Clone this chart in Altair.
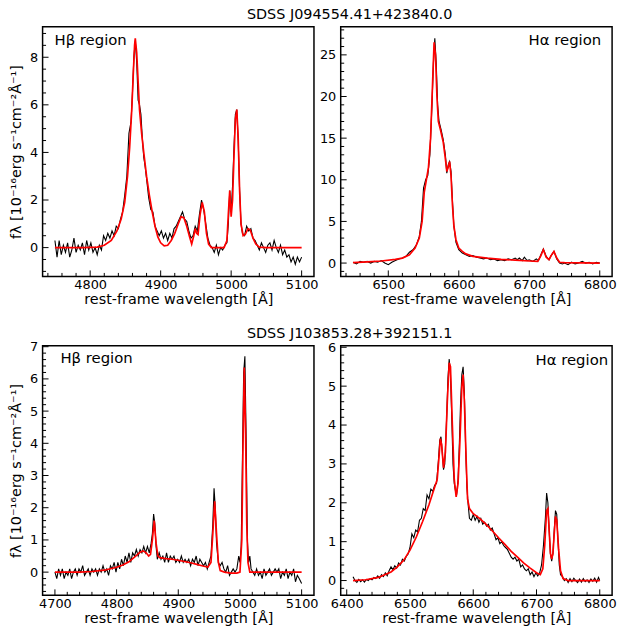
import altair as alt
import pandas as pd

FONT = "DejaVu Sans"

tl_obs_wl = [4750, 4753, 4756, 4759, 4762, 4765, 4768, 4771, 4774, 4777, 4780, 4783, 4786, 4789, 4792, 4795,
             4798, 4801, 4804, 4807, 4810, 4813, 4816, 4819, 4822, 4825, 4828, 4831, 4834, 4837, 4840, 4843,
             4846, 4849, 4852, 4855, 4858, 4860, 4862, 4864, 4866, 4868, 4870, 4872, 4874, 4876, 4878, 4880,
             4883, 4886, 4889, 4892, 4895, 4898, 4901, 4904, 4907, 4910, 4913, 4916, 4919, 4922, 4925, 4928,
             4931, 4934, 4937, 4940, 4943, 4946, 4949, 4952, 4955, 4958, 4961, 4964, 4967, 4970, 4973, 4976,
             4979, 4982, 4985, 4988, 4991, 4994, 4996, 4998, 5000, 5002, 5004, 5006, 5008, 5010, 5012, 5014,
             5016, 5019, 5022, 5025, 5028, 5031, 5034, 5037, 5040, 5043, 5046, 5049, 5052, 5055, 5058, 5061,
             5064, 5067, 5070, 5073, 5076, 5079, 5082, 5085, 5088, 5091, 5094, 5097, 5100]
tl_obs_f = [0.3, -0.4, 0.3, -0.3, 0.1, -0.2, 0.2, -0.4, -0.1, 0.4, -0.2, 0.1, -0.1, 0.2, -0.3, 0.3,
            -0.1, 0.2, -0.2, 0.0, -0.3, 0.1, -0.1, 0.5, 0.3, 0.6, 0.4, 0.7, 0.5, 0.9, 0.8, 1.2,
            1.5, 2.2, 3.0, 4.8, 5.3, 6.5, 8.0, 8.7, 7.8, 6.2, 6.0, 5.6, 4.6, 3.8, 3.4, 2.9,
            2.1, 1.6, 1.5, 0.9, 0.7, 0.5, 0.7, 0.4, 0.6, 0.3, 0.6, 0.4, 0.8, 0.9, 1.1, 1.3,
            1.5, 1.2, 1.1, 0.7, 0.4, 0.5, 0.9, 0.7, 1.4, 2.0, 1.6, 1.0, 0.4, 0.1, 0.0, -0.2,
            0.1, -0.3, 0.0, -0.1, 0.1, 0.2, 1.0, 2.4, 1.5, 2.6, 4.2, 5.6, 5.8, 4.5, 2.4, 1.0,
            0.6, 0.5, 0.9, 0.7, 0.8, 0.4, 0.3, 0.1, -0.1, 0.2, 0.0, -0.2, 0.1, 0.2, -0.1, 0.3,
            0.0, -0.2, 0.1, -0.3, -0.1, -0.4, -0.3, -0.6, -0.4, -0.7, -0.4, -0.6, -0.4]
tl_mod_wl = [4750, 4790, 4810, 4820, 4830, 4838, 4844, 4849, 4853, 4856, 4859, 4861, 4863, 4864, 4866, 4868,
             4870, 4873, 4876, 4880, 4884, 4888, 4892, 4896, 4900, 4905, 4910, 4915, 4920, 4925, 4929, 4933,
             4937, 4941, 4944, 4947, 4949, 4951, 4953, 4956, 4959, 4962, 4965, 4968, 4972, 4990, 4994, 4996,
             4998, 5000, 5002, 5004, 5006, 5008, 5010, 5012, 5014, 5017, 5020, 5024, 5027, 5031, 5035, 5040,
             5050, 5100]
tl_mod_f = [0.0, 0.0, 0.02, 0.1, 0.3, 0.7, 1.2, 1.9, 3.0, 4.2, 5.8, 7.2, 8.5, 8.8, 8.2, 7.0,
            5.8, 4.8, 4.0, 3.0, 2.2, 1.5, 0.9, 0.45, 0.2, 0.07, 0.1, 0.3, 0.6, 1.0, 1.3, 1.25,
            0.9, 0.45, 0.15, 0.5, 0.8, 0.6, 0.55, 1.4, 1.9, 1.5, 0.6, 0.15, 0.0, 0.0, 0.3, 1.4,
            2.4, 1.3, 2.0, 3.8, 5.4, 5.8, 4.6, 2.4, 1.0, 0.5, 0.55, 0.8, 0.75, 0.4, 0.15, 0.02,
            0.0, 0.0]

tr_obs_wl = [6450, 6455, 6460, 6465, 6470, 6475, 6480, 6485, 6490, 6495, 6500, 6505, 6510, 6515, 6520, 6525,
             6530, 6535, 6540, 6544, 6547, 6550, 6553, 6556, 6559, 6562, 6564, 6566, 6568, 6570, 6572, 6575,
             6578, 6581, 6583, 6585, 6587, 6589, 6591, 6593, 6596, 6600, 6605, 6610, 6615, 6620, 6625, 6630,
             6635, 6640, 6645, 6650, 6655, 6660, 6665, 6670, 6675, 6680, 6683, 6686, 6690, 6693, 6697, 6700,
             6705, 6710, 6713, 6716, 6720, 6724, 6728, 6731, 6735, 6739, 6743, 6747, 6750, 6755, 6760, 6765,
             6770, 6775, 6780, 6785, 6790, 6795, 6800]
tr_obs_f = [0.1, -0.1, 0.2, 0.1, 0.2, 0.0, 0.2, 0.1, 0.3, 0.0, -0.2, 0.1, 0.3, 0.5, 0.6, 0.8,
            1.3, 1.6, 2.2, 3.2, 5.0, 9.0, 10.0, 10.5, 13.0, 19.0, 24.0, 27.0, 24.0, 19.0, 17.0, 16.0,
            14.8, 13.0, 10.8, 11.8, 12.2, 11.0, 7.5, 4.5, 2.5, 1.6, 1.2, 1.0, 0.8, 0.9, 0.7, 0.6,
            0.5, 0.6, 0.4, 0.5, 0.3, 0.4, 0.3, 0.5, 0.4, 0.6, 0.4, 0.6, 0.3, 0.7, 0.3, 0.4,
            0.2, 0.5, 0.3, 0.9, 1.7, 0.8, 0.4, 0.9, 1.4, 0.5, 0.0, -0.1, 0.0, -0.2, 0.1, -0.1,
            0.0, 0.2, 0.0, 0.1, -0.1, 0.1, 0.0]
tr_mod_wl = [6450, 6470, 6490, 6510, 6520, 6530, 6538, 6544, 6548, 6551, 6554, 6557, 6560, 6563, 6565, 6567,
             6569, 6571, 6574, 6578, 6581, 6583, 6585, 6587, 6589, 6591, 6593, 6596, 6600, 6605, 6610, 6620,
             6640, 6660, 6680, 6700, 6712, 6716, 6720, 6724, 6728, 6731, 6735, 6739, 6743, 6750, 6800]
tr_mod_f = [0.05, 0.15, 0.25, 0.45, 0.6, 1.0, 1.8, 3.0, 5.0, 8.5, 10.0, 11.5, 15.0, 22.0, 26.5, 25.0,
            20.0, 17.0, 16.0, 14.5, 12.5, 11.0, 11.5, 12.2, 10.5, 7.0, 4.5, 2.8, 1.8, 1.4, 1.1, 0.8,
            0.6, 0.45, 0.35, 0.25, 0.2, 0.8, 1.6, 0.7, 0.4, 0.9, 1.4, 0.6, 0.1, 0.05, 0.0]

bl_obs_wl = [4700, 4703, 4706, 4709, 4712, 4715, 4718, 4721, 4724, 4727, 4730, 4733, 4736, 4739, 4742, 4745,
             4748, 4751, 4754, 4757, 4760, 4763, 4766, 4769, 4772, 4775, 4778, 4781, 4784, 4787, 4790, 4793,
             4796, 4799, 4802, 4805, 4808, 4811, 4814, 4817, 4820, 4823, 4826, 4829, 4832, 4835, 4838, 4841,
             4844, 4847, 4850, 4853, 4856, 4858, 4860, 4862, 4864, 4866, 4869, 4872, 4875, 4878, 4881, 4884,
             4887, 4890, 4893, 4896, 4899, 4902, 4905, 4908, 4911, 4914, 4917, 4920, 4923, 4926, 4929, 4932,
             4935, 4938, 4941, 4944, 4947, 4950, 4953, 4956, 4958, 4960, 4962, 4965, 4968, 4971, 4974, 4977,
             4980, 4983, 4986, 4989, 4992, 4995, 4998, 5000, 5002, 5004, 5006, 5008, 5010, 5012, 5014, 5016,
             5018, 5021, 5024, 5027, 5030, 5033, 5036, 5039, 5042, 5045, 5048, 5051, 5054, 5057, 5060, 5063,
             5066, 5069, 5072, 5075, 5078, 5081, 5084, 5087, 5090, 5093, 5096, 5100]
bl_obs_f = [0.0, -0.2, 0.1, -0.1, 0.1, -0.2, 0.0, -0.1, 0.1, -0.2, 0.0, 0.1, -0.1, 0.1, 0.0, 0.2,
            -0.1, 0.0, 0.1, -0.1, 0.1, 0.0, 0.1, -0.1, 0.1, 0.0, 0.2, 0.0, 0.1, -0.1, 0.2, 0.1,
            0.3, 0.0, 0.3, 0.1, 0.4, 0.2, 0.5, 0.3, 0.6, 0.3, 0.6, 0.5, 0.7, 0.5, 0.7, 0.6,
            0.8, 0.6, 0.8, 0.6, 0.9, 1.2, 1.8, 1.5, 0.8, 0.4, 0.6, 0.4, 0.5, 0.3, 0.6, 0.3,
            0.5, 0.4, 0.5, 0.3, 0.4, 0.3, 0.5, 0.3, 0.4, 0.3, 0.4, 0.2, 0.4, 0.3, 0.5, 0.2,
            0.4, 0.3, 0.2, 0.3, 0.1, 0.3, 0.5, 1.5, 2.6, 2.0, 0.9, 0.3, 0.2, 0.3, 0.1, 0.0,
            0.2, -0.1, 0.0, 0.1, 0.0, 0.1, 0.5, 0.3, 0.8, 3.5, 6.2, 6.7, 4.2, 1.0, 0.3, 0.5,
            0.1, 0.0, -0.1, 0.1, -0.1, 0.0, -0.2, 0.1, -0.1, 0.0, 0.1, -0.1, 0.0, 0.1, 0.0, 0.1,
            -0.2, 0.0, -0.1, 0.1, -0.2, 0.0, -0.1, 0.1, -0.3, -0.1, -0.2, -0.35]
bl_mod_wl = [4700, 4720, 4740, 4760, 4780, 4800, 4810, 4820, 4830, 4838, 4843, 4848, 4852, 4855, 4858, 4861,
             4864, 4867, 4870, 4880, 4890, 4900, 4910, 4920, 4930, 4940, 4948, 4953, 4956, 4959, 4962, 4965,
             4968, 4975, 4985, 4995, 5000, 5003, 5005, 5007, 5009, 5011, 5013, 5016, 5030, 5100]
bl_mod_f = [0.0, 0.0, 0.0, 0.02, 0.06, 0.15, 0.22, 0.32, 0.48, 0.62, 0.66, 0.6, 0.5, 0.55, 1.0, 1.6,
            0.9, 0.5, 0.45, 0.42, 0.4, 0.37, 0.33, 0.29, 0.24, 0.19, 0.16, 0.3, 1.2, 2.2, 1.2, 0.3,
            0.05, 0.0, -0.03, -0.03, 0.0, 1.0, 4.0, 6.35, 4.5, 1.5, 0.3, 0.0, 0.0, 0.0]

br_obs_wl = [6410, 6413, 6416, 6419, 6422, 6425, 6428, 6431, 6434, 6437, 6440, 6443, 6446, 6449, 6452, 6455,
             6458, 6461, 6464, 6467, 6470, 6473, 6476, 6479, 6482, 6485, 6488, 6491, 6494, 6497, 6500, 6503,
             6506, 6509, 6512, 6515, 6518, 6521, 6524, 6527, 6530, 6533, 6536, 6539, 6542, 6545, 6547, 6549,
             6551, 6553, 6555, 6558, 6560, 6562, 6564, 6566, 6568, 6570, 6572, 6574, 6576, 6578, 6580, 6582,
             6584, 6586, 6588, 6590, 6592, 6594, 6597, 6600, 6603, 6606, 6609, 6612, 6615, 6618, 6621, 6624,
             6627, 6630, 6633, 6636, 6639, 6642, 6645, 6648, 6651, 6654, 6657, 6660, 6663, 6666, 6669, 6672,
             6675, 6678, 6681, 6684, 6687, 6690, 6693, 6696, 6699, 6702, 6705, 6708, 6711, 6714, 6716, 6718,
             6720, 6722, 6724, 6726, 6728, 6730, 6732, 6734, 6736, 6738, 6741, 6744, 6747, 6750, 6753, 6756,
             6759, 6762, 6765, 6768, 6771, 6774, 6777, 6780, 6783, 6786, 6789, 6792, 6795, 6798, 6800]
br_obs_f = [0.1, 0.0, -0.05, 0.03, -0.03, 0.02, -0.04, 0.03, 0.0, 0.05, 0.02, 0.08, 0.05, 0.12, 0.06, 0.15,
            0.1, 0.2, 0.12, 0.25, 0.35, 0.28, 0.38, 0.32, 0.45, 0.4, 0.55, 0.5, 0.62, 0.68, 0.85, 1.2,
            1.1, 1.3, 1.25, 1.55, 1.6, 1.85, 1.8, 2.2, 2.1, 2.35, 2.3, 2.45, 2.5, 3.1, 3.6, 3.7,
            3.3, 2.85, 3.0, 4.2, 5.2, 5.7, 5.3, 4.2, 3.0, 2.5, 2.3, 2.25, 2.6, 3.5, 4.6, 5.3,
            5.5, 4.8, 3.4, 2.4, 1.95, 1.6, 1.55, 1.7, 1.55, 1.65, 1.5, 1.6, 1.45, 1.5, 1.4, 1.45,
            1.3, 1.35, 1.2, 1.05, 1.1, 0.95, 1.0, 0.9, 0.85, 0.8, 0.7, 0.6, 0.55, 0.6, 0.5, 0.55,
            0.35, 0.4, 0.3, 0.25, 0.3, 0.15, 0.22, 0.1, 0.2, 0.12, 0.2, 0.4, 0.9, 1.6, 2.25, 2.0,
            1.3, 0.7, 0.5, 0.7, 1.3, 1.8, 1.7, 1.0, 0.4, 0.15, 0.1, 0.0, 0.05, -0.05, 0.05, -0.03,
            0.06, 0.0, -0.05, 0.04, -0.04, 0.05, -0.03, 0.02, -0.05, 0.04, -0.02, 0.06, -0.04, 0.08, 0.0]
br_mod_wl = [6410, 6430, 6450, 6470, 6480, 6490, 6500, 6510, 6520, 6530, 6536, 6540, 6543, 6546, 6548, 6550,
             6553, 6556, 6559, 6562, 6564, 6567, 6570, 6573, 6576, 6579, 6582, 6584, 6586, 6589, 6591, 6594,
             6600, 6610, 6620, 6630, 6640, 6650, 6660, 6670, 6680, 6690, 6700, 6706, 6710, 6713, 6716, 6718,
             6720, 6722, 6724, 6726, 6728, 6730, 6732, 6735, 6738, 6742, 6750, 6800]
br_mod_f = [0.0, 0.02, 0.08, 0.22, 0.35, 0.52, 0.78, 1.12, 1.52, 1.95, 2.25, 2.45, 2.6, 3.2, 3.65, 3.5,
            2.9, 3.3, 4.6, 5.6, 5.5, 4.0, 2.6, 2.15, 2.5, 3.6, 5.0, 5.3, 4.6, 3.0, 2.1, 1.85,
            1.72, 1.6, 1.45, 1.28, 1.1, 0.93, 0.75, 0.6, 0.45, 0.32, 0.2, 0.15, 0.3, 0.9, 1.8, 1.85,
            1.3, 0.7, 0.55, 0.7, 1.2, 1.65, 1.55, 0.8, 0.25, 0.05, 0.0, 0.0]

tl_xdom, tl_ydom = [4732.5, 5117.5], [-1.21, 9.28]
tr_xdom, tr_ydom = [6432.5, 6817.5], [-1.6, 28.37]
bl_xdom, bl_ydom = [4680, 5120], [-0.72, 7.03]
br_xdom, br_ydom = [6390.5, 6819.5], [-0.38, 6.04]

tl_xmaj = [4800, 4900, 5000, 5100]
tr_xmaj = [6500, 6600, 6700, 6800]
bl_xmaj = [4700, 4800, 4900, 5000, 5100]
br_xmaj = [6400, 6500, 6600, 6700, 6800]
tl_ymaj = [0, 2, 4, 6, 8]
tr_ymaj = [0, 5, 10, 15, 20, 25]
bl_ymaj = [0, 1, 2, 3, 4, 5, 6, 7]
br_ymaj = [0, 1, 2, 3, 4, 5, 6]

titles = ["SDSS J094554.41+423840.0", "SDSS J103853.28+392151.1"]
XTITLE = "rest-frame wavelength [Å]"
YTITLE = "fλ [10⁻¹⁶erg s⁻¹cm⁻²Å⁻¹]"

W, H = 274, 252
MAJ, MIN = 6, 3.5


def minor_ticks(dom, step):
    k = int(dom[0] // step) + 1
    vals = []
    while k * step < dom[1]:
        vals.append(round(k * step, 6))
        k += 1
    return vals


def panel(obs_wl, obs_f, mod_wl, mod_f, xdom, ydom, xmaj, ymaj, xstep, ystep,
          label, left_side, label_dx, label_dy, ytitle, title=None):
    obs = pd.DataFrame({"wl": obs_wl, "f": obs_f})
    mod = pd.DataFrame({"wl": mod_wl, "f": mod_f})
    xs = alt.Scale(domain=xdom, nice=False, zero=False)
    ys = alt.Scale(domain=ydom, nice=False, zero=False)
    xaxis = alt.Axis(values=xmaj, title=XTITLE, grid=False, ticks=False, domain=False, labelPadding=2,
                     titlePadding=1, labelOverlap=False, labelFlush=False)
    if ytitle:
        yaxis = alt.Axis(values=ymaj, title=ytitle, grid=False, ticks=False, domain=False, labelPadding=5,
                         titlePadding=6, labelOverlap=False, labelFlush=False)
    else:
        yaxis = alt.Axis(values=ymaj, title=None, grid=False, ticks=False, domain=False, labelPadding=5,
                         labelOverlap=False, labelFlush=False)

    X = alt.X("wl:Q", scale=xs, axis=xaxis)
    Y = alt.Y("f:Q", scale=ys, axis=yaxis)

    black = alt.Chart(obs).mark_line(color="black", strokeWidth=1.1, clip=True).encode(x=X, y=Y)
    red = alt.Chart(mod).mark_line(color="#ff0000", strokeWidth=1.7, clip=True).encode(x=X, y=Y)

    xmin = [v for v in minor_ticks(xdom, xstep) if v not in xmaj]
    ymin = [v for v in minor_ticks(ydom, ystep) if all(abs(v - m) > 1e-6 for m in ymaj)]

    tick_layers = [
        alt.Chart(pd.DataFrame({"wl": xmaj})).mark_rule(color="black", strokeWidth=1, clip=True).encode(
            x=X, y=alt.value(H), y2=alt.value(H - MAJ)),
        alt.Chart(pd.DataFrame({"wl": xmin})).mark_rule(color="black", strokeWidth=1, clip=True).encode(
            x=X, y=alt.value(H), y2=alt.value(H - MIN)),
        alt.Chart(pd.DataFrame({"f": ymaj})).mark_rule(color="black", strokeWidth=1, clip=True).encode(
            y=Y, x=alt.value(0), x2=alt.value(MAJ)),
        alt.Chart(pd.DataFrame({"f": ymin})).mark_rule(color="black", strokeWidth=1, clip=True).encode(
            y=Y, x=alt.value(0), x2=alt.value(MIN)),
    ]

    lab = alt.Chart(pd.DataFrame({"t": [label]})).mark_text(
        align="left" if left_side else "right", baseline="middle", fontSize=15, font=FONT,
        color="black").encode(
        x=alt.value(label_dx if left_side else W - label_dx), y=alt.value(label_dy), text="t:N")

    layers = [black, red] + tick_layers + [lab]
    if title:
        layers.append(alt.Chart(pd.DataFrame({"t": [title]})).mark_text(
            align="center", baseline="middle", fontSize=14.5, font=FONT, color="black").encode(
            x=alt.value(310), y=alt.value(-12), text="t:N"))
    return alt.layer(*layers).properties(width=W, height=H)


p1 = panel(tl_obs_wl, tl_obs_f, tl_mod_wl, tl_mod_f, tl_xdom, tl_ydom, tl_xmaj, tl_ymaj, 20, 0.5,
           "Hβ region", True, 12, 13, YTITLE, titles[0])
p2 = panel(tr_obs_wl, tr_obs_f, tr_mod_wl, tr_mod_f, tr_xdom, tr_ydom, tr_xmaj, tr_ymaj, 20, 1,
           "Hα region", False, 11, 13, None)
p3 = panel(bl_obs_wl, bl_obs_f, bl_mod_wl, bl_mod_f, bl_xdom, bl_ydom, bl_xmaj, bl_ymaj, 20, 0.2,
           "Hβ region", True, 18, 12, YTITLE, titles[1])
p4 = panel(br_obs_wl, br_obs_f, br_mod_wl, br_mod_f, br_xdom, br_ydom, br_xmaj, br_ymaj, 20, 0.2,
           "Hα region", False, 4, 14, None)

chart = alt.concat(p1, p2, p3, p4, columns=2, spacing={"row": 70, "column": 27}, bounds="flush").properties(
    padding={"left": 7, "top": 3, "right": 5, "bottom": 5}, background="white"
).configure_view(stroke="black", strokeWidth=1.5).configure_axis(
    labelFont=FONT, labelFontSize=13, labelColor="black", titleFont=FONT, titleFontSize=14.5,
    titleFontWeight="normal", titleColor="black", labelFlush=False, labelOverlap=False, format="d"
)

chart.save("out.html", embed_options={"renderer": "svg", "actions": False})
